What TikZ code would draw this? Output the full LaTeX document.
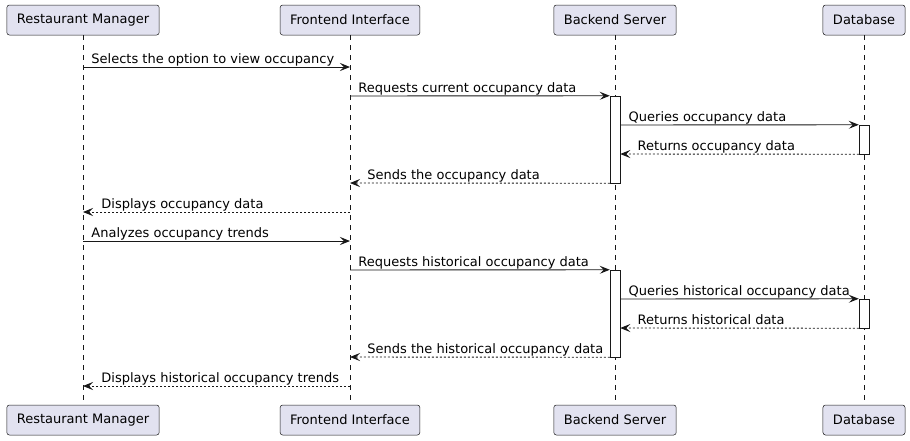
\documentclass[tikz,border=0pt]{standalone}
\usepackage{fontspec}
\setmainfont{DejaVu Sans}
\usetikzlibrary{arrows.meta}
\definecolor{partfill}{HTML}{E2E2F0}
\definecolor{partline}{HTML}{181818}

\begin{document}
\begin{tikzpicture}[x=1pt,y=-1pt,
	part/.style={draw=partline,fill=partfill,rounded corners=2.5pt,minimum height=30pt,inner xsep=10pt,line width=0.5pt,font=\fontsize{13}{15}\selectfont},
	life/.style={draw=partline,line width=0.5pt,dash pattern=on 5pt off 5pt},
	actbar/.style={draw=partline,fill=white,line width=0.5pt,minimum width=10pt,inner sep=0pt},
	msg/.style={draw=partline,line width=0.9pt,-{Stealth[length=10pt,width=8pt,inset=4pt]}},
	ret/.style={msg,dash pattern=on 2pt off 2pt},
	lbl/.style={anchor=base west,inner sep=0pt,yshift=4pt,font=\fontsize{13}{15}\selectfont}]
	\useasboundingbox[fill=white] (0,0) rectangle (910,440);
	% participants, top and bottom
	\foreach \n/\x/\t in {rm/83/Restaurant Manager,fe/350/Frontend Interface,be/615/Backend Server,db/864/Database}{
		\node[part] (\n T) at (\x,20) {\t};
		\node[part] (\n B) at (\x,420) {\t};
		\draw[life] (\n T) -- (\n B);
		\foreach \r in {1,...,12} \coordinate (\n\r) at (\x,38+29*\r);
	}
	% activations
	\node[actbar,minimum height=87pt] (beA1) at (615,139.5) {};
	\node[actbar,minimum height=29pt] (dbA1) at (864,139.5) {};
	\node[actbar,minimum height=87pt] (beA2) at (615,313.5) {};
	\node[actbar,minimum height=29pt] (dbA2) at (864,313.5) {};
	% messages
	\draw[msg] (rm1) -- (fe1) node[lbl,at start,xshift=8pt] {Selects the option to view occupancy};
	\draw[msg] (fe2) -- (beA1.north west) node[lbl,at start,xshift=8pt] {Requests current occupancy data};
	\draw[msg] (beA1.east |- be3) -- (dbA1.north west) node[lbl,at start,xshift=8pt] {Queries occupancy data};
	\draw[ret] (dbA1.south west) -- (beA1.east |- be4) node[lbl,at end,xshift=17pt] {Returns occupancy data};
	\draw[ret] (beA1.south west) -- (fe5) node[lbl,at end,xshift=17pt] {Sends the occupancy data};
	\draw[ret] (fe6) -- (rm6) node[lbl,at end,xshift=18pt] {Displays occupancy data};
	\draw[msg] (rm7) -- (fe7) node[lbl,at start,xshift=8pt] {Analyzes occupancy trends};
	\draw[msg] (fe8) -- (beA2.north west) node[lbl,at start,xshift=8pt] {Requests historical occupancy data};
	\draw[msg] (beA2.east |- be9) -- (dbA2.north west) node[lbl,at start,xshift=8pt] {Queries historical occupancy data};
	\draw[ret] (dbA2.south west) -- (beA2.east |- be10) node[lbl,at end,xshift=17pt] {Returns historical data};
	\draw[ret] (beA2.south west) -- (fe11) node[lbl,at end,xshift=17pt] {Sends the historical occupancy data};
	\draw[ret] (fe12) -- (rm12) node[lbl,at end,xshift=18pt] {Displays historical occupancy trends};
\end{tikzpicture}
\end{document}
